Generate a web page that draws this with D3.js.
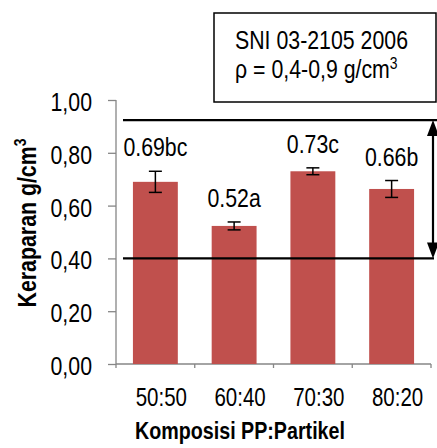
<!DOCTYPE html>
<html>
<head>
<meta charset="utf-8">
<script src="https://cdn.jsdelivr.net/npm/d3@7"></script>
<style>
  body { margin: 0; background: #fff; }
  text { font-family: "Liberation Sans", Arial, sans-serif; fill: #000; }
</style>
</head>
<body>
<div id="chart"></div>
<script>
// Data
var categories = ["50:50", "60:40", "70:30", "80:20"],
	means = [0.69, 0.523, 0.73, 0.663],
	errors = [0.04, 0.015, 0.013, 0.032],
	labels = ["0.69bc", "0.52a", "0.73c", "0.66b"],
	yTicks = [0, 0.2, 0.4, 0.6, 0.8, 1.0],
	guideLines = [0.924, 0.40]; // drawn standard band lines (upper, lower)

var width = 437,
	height = 448,
	narrowK = 0.82, // no Arial Narrow here, so squeeze the regular face
	margin = {top: 100, right: 6, bottom: 84, left: 116};

var svg = d3.select("#chart").append("svg")
	.attr("width", width)
	.attr("height", height);

var x = d3.scaleBand()
	.domain(categories)
	.range([margin.left, width - margin.right])
	.paddingInner(0.43)
	.paddingOuter(0.215);

var y = d3.scaleLinear()
	.domain([0, 1])
	.range([height - margin.bottom, margin.top]);

var fmt = function(d) { return d3.format(".2f")(d).replace(".", ","); };

// move x/y into a transform and squeeze horizontally
function narrow(sel, extra) {
	sel.each(function() {
		var t = d3.select(this),
			tx = +t.attr("x") || 0,
			ty = +t.attr("y") || 0;
		t.attr("x", null).attr("y", null)
			.attr("transform", "translate(" + tx + "," + ty + ")" + (extra || "") + " scale(" + narrowK + ",1)");
	});
}

// y axis
var yAxis = svg.append("g")
	.attr("transform", "translate(" + margin.left + ",0)")
	.call(d3.axisLeft(y).tickValues(yTicks).tickFormat(fmt).tickSize(8).tickPadding(16));
yAxis.selectAll("path, line").attr("stroke", "#868686").attr("stroke-width", 1.3);
yAxis.select(".domain").attr("d", "M0," + y(1) + "V" + y(0));
yAxis.selectAll("text").style("font-size", "26px").attr("dy", "0.4em");
narrow(yAxis.selectAll("text"));

// x axis (ticks at band edges)
var edges = categories.map(function(c) { return x(c) - x.step() * x.paddingInner() / 2; });
edges.push(x.range()[1]);
var xAxis = svg.append("g").attr("class", "x-axis");
xAxis.append("line")
	.attr("x1", margin.left).attr("x2", x.range()[1])
	.attr("y1", y(0)).attr("y2", y(0))
	.attr("stroke", "#868686").attr("stroke-width", 1.3);
xAxis.selectAll("line.tick")
	.data(edges)
	.enter().append("line")
	.attr("class", "tick")
	.attr("x1", function(d) { return d; }).attr("x2", function(d) { return d; })
	.attr("y1", y(0)).attr("y2", y(0) + 4)
	.attr("stroke", "#868686").attr("stroke-width", 1.3);
xAxis.selectAll("text")
	.data(categories)
	.enter().append("text")
	.attr("x", function(d) { return x(d) + x.bandwidth() / 2 + 6; })
	.attr("y", y(0) + 42)
	.attr("text-anchor", "middle")
	.style("font-size", "25px")
	.text(function(d) { return d; })
	.call(narrow);

// bars
svg.append("g").selectAll("rect")
	.data(means)
	.enter().append("rect")
	.attr("x", function(d, i) { return x(categories[i]); })
	.attr("y", function(d) { return y(d); })
	.attr("width", x.bandwidth())
	.attr("height", function(d) { return y(0) - y(d); })
	.attr("fill", "#C0504D");

// error bars
var err = svg.append("g").attr("stroke", "#000").attr("stroke-width", 1.5);
means.forEach(function(m, i) {
	var cx = x(categories[i]) + x.bandwidth() / 2;
	err.append("line").attr("x1", cx).attr("x2", cx)
		.attr("y1", y(m + errors[i])).attr("y2", y(m - errors[i]));
	[m + errors[i], m - errors[i]].forEach(function(v) {
		err.append("line").attr("x1", cx - 6.5).attr("x2", cx + 6.5)
			.attr("y1", y(v)).attr("y2", y(v));
	});
});

// value labels
svg.append("g").selectAll("text")
	.data(labels)
	.enter().append("text")
	.attr("x", function(d, i) { return x(categories[i]) + x.bandwidth() / 2; })
	.attr("y", function(d, i) { return y(means[i] + errors[i]) - 15; })
	.attr("text-anchor", "middle")
	.style("font-size", "26px")
	.text(function(d) { return d; })
	.call(narrow);

// standard range lines and double arrow
var guide = svg.append("g").attr("stroke", "#000").attr("stroke-width", 2.2);
var arrowX = x.range()[1] + 2;
guide.append("line")
	.attr("x1", margin.left + 7).attr("x2", width)
	.attr("y1", y(guideLines[0])).attr("y2", y(guideLines[0]));
guide.append("line")
	.attr("x1", margin.left + 7).attr("x2", arrowX + 1)
	.attr("y1", y(guideLines[1])).attr("y2", y(guideLines[1]));
guide.append("line")
	.attr("x1", arrowX).attr("x2", arrowX)
	.attr("y1", y(guideLines[0]) + 8).attr("y2", y(guideLines[1]) - 8);
svg.append("path")
	.attr("d", "M" + arrowX + "," + y(guideLines[0]) + "l-6,16h12z")
	.attr("fill", "#000");
svg.append("path")
	.attr("d", "M" + arrowX + "," + y(guideLines[1]) + "l-6,-16h12z")
	.attr("fill", "#000");

// SNI note box
var note = svg.append("g");
note.append("rect")
	.attr("x", 214).attr("y", 13)
	.attr("width", 222).attr("height", 89)
	.attr("fill", "#fff").attr("stroke", "#000").attr("stroke-width", 1.5);
note.append("text")
	.attr("x", 235).attr("y", 49)
	.style("font-size", "26px")
	.text("SNI 03-2105 2006")
	.call(narrow);
var t2 = note.append("text")
	.attr("x", 235).attr("y", 78)
	.style("font-size", "26px");
t2.append("tspan").text("\u03C1 = 0,4-0,9 g/cm");
t2.append("tspan").attr("dy", "-9").style("font-size", "17px").text("3");
t2.call(narrow);

// axis titles
var yt = svg.append("text")
	.attr("x", 36)
	.attr("y", (y(0) + y(1)) / 2 - 9)
	.attr("text-anchor", "middle")
	.style("font-size", "26px")
	.style("font-weight", "bold");
yt.append("tspan").text("Keraparan g/cm");
yt.append("tspan").attr("dy", "-10").style("font-size", "17px").text("3");
narrow(yt, " rotate(-90)");

svg.append("text")
	.attr("x", 240)
	.attr("y", 439)
	.attr("text-anchor", "middle")
	.style("font-size", "24px")
	.style("font-weight", "bold")
	.text("Komposisi PP:Partikel")
	.call(narrow);
</script>
</body>
</html>
